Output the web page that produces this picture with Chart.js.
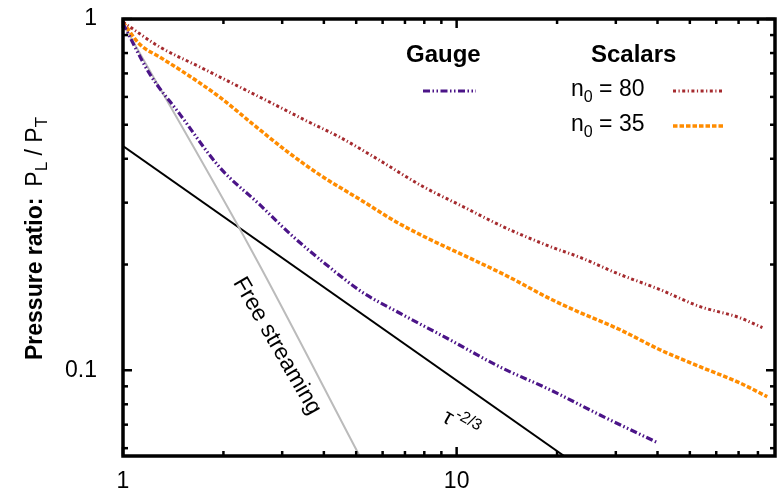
<!DOCTYPE html>
<html>
<head>
<meta charset="utf-8">
<script src="https://cdn.jsdelivr.net/npm/chart.js@4"></script>
<style>
  html, body { margin: 0; padding: 0; background: #fff; }
</style>
</head>
<body>
<canvas id="chart" width="783" height="490"></canvas>
<script>
// values (tau, P_L / P_T)
const gaugeT = [1, 1.2, 1.48, 1.95, 2.57, 3.16, 4.17, 5.23, 6.7, 9.5, 13.4, 19, 26.8, 40];
const gaugeP = [0.97, 0.70, 0.536, 0.378, 0.296, 0.245, 0.196, 0.1665, 0.146, 0.1224, 0.1025, 0.0881, 0.0747, 0.0622];

const n80T = [1, 1.29, 1.7, 2.24, 2.95, 3.56, 4.46, 5.6, 7.9, 10.4, 13.7, 19, 23.4, 30.8, 40.5, 53.4, 70.3, 82.5];
const n80P = [0.98, 0.832, 0.73, 0.64, 0.561, 0.512, 0.461, 0.407, 0.334, 0.293, 0.257, 0.2253, 0.2097, 0.1875, 0.170, 0.152, 0.1413, 0.1323];

const n35T = [1, 1.12, 1.29, 1.55, 1.95, 2.45, 3.1, 3.89, 5.23, 6.61, 8.3, 10.9, 14.4, 19, 23.4, 30.8, 40.5, 53.4, 70.3, 85.3];
const n35P = [0.98, 0.849, 0.779, 0.697, 0.599, 0.502, 0.42, 0.36, 0.303, 0.264, 0.236, 0.209, 0.184, 0.16, 0.146, 0.1306, 0.1146, 0.1025, 0.0922, 0.0841];

const freeT = [1, 2.45, 5.12];
const freeP = [0.97, 0.216, 0.057];

const powerT = [1, 21];
const powerP = [0.435, 0.057];

const xMajor = [1, 10];
const xMinor = [2, 3, 4, 5, 6, 7, 8, 9, 20, 30, 40, 50, 60, 70, 80];
const yMajor = [0.1, 1];
const yMinor = [0.06, 0.07, 0.08, 0.09, 0.2, 0.3, 0.4, 0.5, 0.6, 0.7, 0.8, 0.9];

const FONT = '"Liberation Sans", Arial, sans-serif';

const pts = (xs, ys) => xs.map((t, i) => ({ x: t, y: ys[i] }));

const decor = {
  id: 'decor',
  afterDraw(chart) {
    const { ctx, chartArea: a, scales: { x, y } } = chart;
    ctx.save();
    ctx.strokeStyle = '#000';
    ctx.fillStyle = '#000';

    const seg = (x1, y1, x2, y2) => {
      ctx.beginPath(); ctx.moveTo(x1, y1); ctx.lineTo(x2, y2); ctx.stroke();
    };

    // inward ticks on all four sides
    ctx.lineWidth = 2.5;
    xMajor.concat(xMinor).forEach(v => {
      const px = x.getPixelForValue(v);
      const len = xMajor.includes(v) ? 9 : 5;
      seg(px, a.bottom, px, a.bottom - len);
      seg(px, a.top, px, a.top + len);
    });
    yMajor.concat(yMinor).forEach(v => {
      const py = y.getPixelForValue(v);
      const len = yMajor.includes(v) ? 9 : 5;
      seg(a.left, py, a.left + len, py);
      seg(a.right, py, a.right - len, py);
    });

    // frame
    ctx.lineWidth = 3.5;
    ctx.strokeRect(a.left, a.top, a.right - a.left, a.bottom - a.top);

    // y axis title
    ctx.save();
    ctx.translate(42, 360);
    ctx.rotate(-Math.PI / 2);
    ctx.textBaseline = 'alphabetic';
    ctx.font = 'bold 23px ' + FONT;
    ctx.fillText('Pressure ratio:', 0, 0);
    let w = ctx.measureText('Pressure ratio:').width + 11;
    ctx.font = '23px ' + FONT;
    ctx.fillText('P', w, 0); w += ctx.measureText('P').width;
    ctx.font = '17px ' + FONT;
    ctx.fillText('L', w, 5); w += ctx.measureText('L').width;
    ctx.font = '23px ' + FONT;
    ctx.fillText(' / P', w, 0); w += ctx.measureText(' / P').width;
    ctx.font = '17px ' + FONT;
    ctx.fillText('T', w, 5);
    ctx.restore();

    // legend
    ctx.textBaseline = 'alphabetic';
    ctx.font = 'bold 24px ' + FONT;
    ctx.fillText('Gauge', 406, 62);
    ctx.fillText('Scalars', 591, 62);

    const nLabel = (val, bx, by) => {
      ctx.font = '23px ' + FONT;
      ctx.fillText('n', bx, by);
      let xx = bx + ctx.measureText('n').width;
      ctx.font = '16px ' + FONT;
      ctx.fillText('0', xx, by + 6);
      xx += ctx.measureText('0').width;
      ctx.font = '23px ' + FONT;
      ctx.fillText(' = ' + val, xx, by);
    };
    nLabel('80', 571, 96);
    nLabel('35', 571, 131);

    const sample = (ds, x1, x2, yy) => {
      ctx.save();
      ctx.strokeStyle = ds.borderColor;
      ctx.lineWidth = ds.borderWidth;
      ctx.setLineDash(ds.borderDash);
      seg(x1, yy, x2, yy);
      ctx.restore();
    };
    const sets = chart.data.datasets;
    sample(sets[0], 423, 476, 91);
    sample(sets[1], 673, 722, 91);
    sample(sets[2], 673, 725, 126);

    // in-plot annotations
    ctx.save();
    ctx.translate(277, 346);
    ctx.rotate(60 * Math.PI / 180);
    ctx.font = '23px ' + FONT;
    ctx.textAlign = 'center';
    ctx.textBaseline = 'middle';
    ctx.fillText('Free streaming', 0, 0);
    ctx.restore();

    ctx.save();
    ctx.translate(441, 421);
    ctx.rotate(30 * Math.PI / 180);
    ctx.font = '22px ' + FONT;
    ctx.fillText('\u03C4', 0, 0);
    const tw = ctx.measureText('\u03C4').width;
    ctx.font = '16px ' + FONT;
    ctx.fillText('-2/3', tw + 1, -10);
    ctx.restore();

    ctx.restore();
  }
};

new Chart(document.getElementById('chart'), {
  type: 'line',
  data: {
    datasets: [
      {
        label: 'Gauge',
        data: pts(gaugeT, gaugeP),
        borderColor: '#4B1488',
        borderWidth: 3.2,
        borderDash: [7, 2.5, 1.5, 2.5, 1.5, 2.5],
      },
      {
        label: 'n0 = 80',
        data: pts(n80T, n80P),
        borderColor: '#A52A2E',
        borderWidth: 3,
        borderDash: [3, 2.5, 1.2, 2.5],
      },
      {
        label: 'n0 = 35',
        data: pts(n35T, n35P),
        borderColor: '#FF8C00',
        borderWidth: 3.5,
        borderDash: [4.5, 2],
      },
      {
        label: 'Free streaming',
        data: pts(freeT, freeP),
        borderColor: '#BBBBBB',
        borderWidth: 2,
        borderDash: [],
      },
      {
        label: 'tau^-2/3',
        data: pts(powerT, powerP),
        borderColor: '#000000',
        borderWidth: 2,
        borderDash: [],
      },
    ],
  },
  options: {
    responsive: false,
    animation: false,
    layout: { padding: { top: 19, right: 8, left: 0, bottom: 0 } },
    elements: {
      point: { radius: 0 },
      line: { cubicInterpolationMode: 'monotone', fill: false },
    },
    plugins: {
      legend: { display: false },
      tooltip: { enabled: false },
    },
    scales: {
      x: {
        type: 'logarithmic',
        min: 1,
        max: 90,
        grid: { display: false },
        border: { display: false },
        afterBuildTicks: (s) => { s.ticks = xMajor.map(v => ({ value: v })); },
        afterFit: (s) => {
          s.height = 34;
          s.paddingLeft = 0; s.paddingRight = 0;
        },
        ticks: {
          autoSkip: false,
          maxRotation: 0,
          padding: 4,
          color: '#000',
          font: { family: FONT, size: 23 },
          callback: (v) => String(v),
        },
      },
      y: {
        type: 'logarithmic',
        min: 0.057,
        max: 1,
        grid: { display: false },
        border: { display: false },
        afterBuildTicks: (s) => { s.ticks = yMajor.map(v => ({ value: v })); },
        afterFit: (s) => {
          s.width = 123;
          s.paddingTop = 0; s.paddingBottom = 0;
        },
        ticks: {
          autoSkip: false,
          padding: 18,
          color: '#000',
          font: { family: FONT, size: 23 },
          callback: (v) => String(v),
        },
      },
    },
  },
  plugins: [decor],
});
</script>
</body>
</html>
